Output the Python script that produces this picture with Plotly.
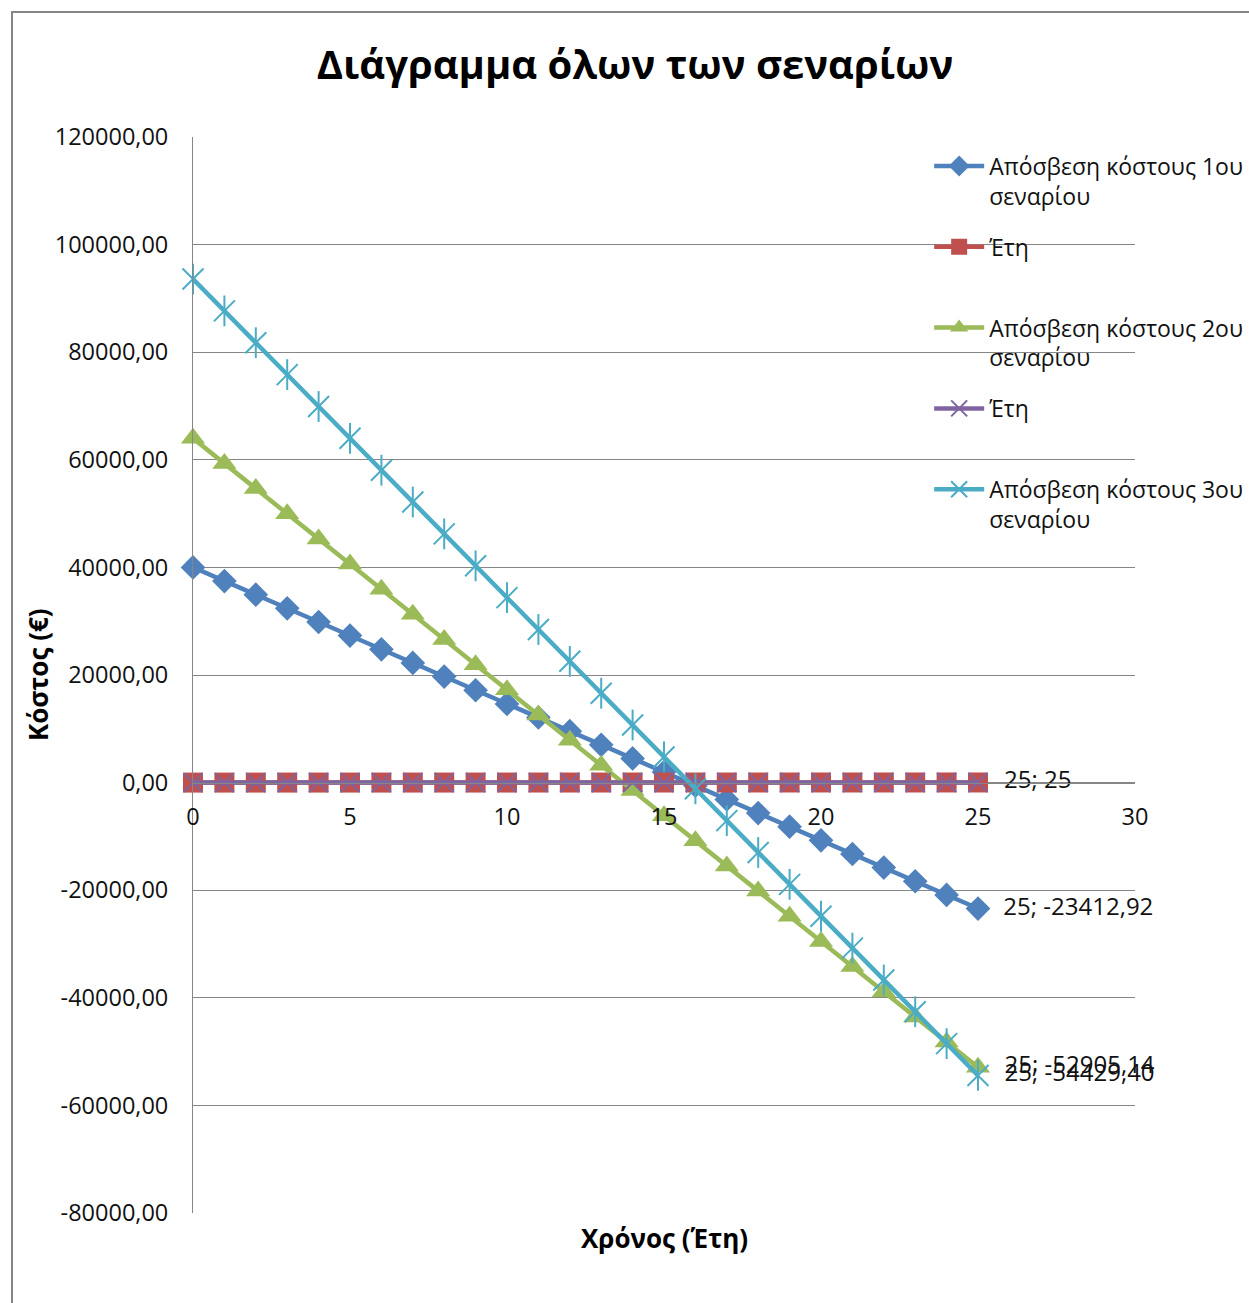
import plotly.graph_objects as go

# ---------------- data ----------------
years = list(range(26))

scenario1 = [40000, 37460, 34930, 32390, 29850, 27320, 24780, 22240, 19710, 17170,
             14630, 12100, 9560, 7030, 4490, 1950, -580, -3120, -5660, -8190,
             -10730, -13270, -15800, -18340, -20880, -23412.92]
scenario2 = [64000, 59300, 54650, 49970, 45300, 40620, 35950, 31270, 26600, 21920,
             17240, 12570, 7890, 3210, -1460, -6140, -10810, -15490, -20170, -24840,
             -29520, -34190, -38870, -43550, -48230, -52905.14]
scenario3 = [93600, 87680, 81760, 75830, 69910, 63990, 58070, 52150, 46230, 40300,
             34380, 28460, 22540, 16620, 10700, 4770, -1150, -7070, -12990, -18910,
             -24840, -30760, -36680, -42600, -48520, -54429.40]
years_series_a = list(range(26))   # "Έτη" (y = year)
years_series_b = list(range(26))   # "Έτη" (y = year)

names = ["Απόσβεση κόστους 1ου<br>σεναρίου", "Έτη<br>&nbsp;",
         "Απόσβεση κόστους 2ου<br>σεναρίου", "Έτη<br>&nbsp;",
         "Απόσβεση κόστους 3ου<br>σεναρίου"]

y_ticks = [120000, 100000, 80000, 60000, 40000, 20000, 0, -20000, -40000, -60000, -80000]
x_ticks = [0, 5, 10, 15, 20, 25, 30]

title_text = "Διάγραμμα όλων των σεναρίων"
y_title = "Κόστος (€)"
x_title = "Χρόνος (Έτη)"

# ---------------- helpers ----------------
FONT = "Open Sans"
GRID = "#868686"
PAD = "\u00a0\u00a0"


def fmt(v):
    s = f"{abs(v):.2f}".replace(".", ",")
    return ("-" if v < 0 else "") + s


def end_label(xs, ys):
    last = ys[-1]
    val = str(int(last)) if float(last).is_integer() and last >= 0 else fmt(last)
    return [""] * (len(xs) - 1) + [f"{PAD}{xs[-1]}; {val}"]


LABEL_FONT = dict(size=24, color="#111111", family=FONT)

fig = go.Figure()

# Scenario 1
fig.add_trace(go.Scatter(
    x=years, y=scenario1, name=names[0], legendgroup="s1",
    mode="lines+markers+text", cliponaxis=False,
    line=dict(color="#4F81BD", width=4.5),
    marker=dict(symbol="diamond", size=19, color="#4F81BD"),
    text=end_label(years, scenario1), textposition="middle right",
    textfont=LABEL_FONT,
))
# Έτη (red squares)
fig.add_trace(go.Scatter(
    x=years, y=years_series_a, name=names[1], legendgroup="s2",
    mode="lines+markers+text", cliponaxis=False,
    line=dict(color="#C0504D", width=4.5),
    marker=dict(symbol="square", size=20, color="#C0504D"),
    text=end_label(years, years_series_a), textposition="middle right",
    textfont=LABEL_FONT,
))
# Scenario 2
fig.add_trace(go.Scatter(
    x=years, y=scenario2, name=names[2], legendgroup="s3",
    mode="lines+markers+text", cliponaxis=False,
    line=dict(color="#9BBB59", width=4.5),
    marker=dict(symbol="triangle-up", size=21, color="#9BBB59"),
    text=end_label(years, scenario2), textposition="middle right",
    textfont=LABEL_FONT,
))
# Έτη (purple x)
fig.add_trace(go.Scatter(
    x=years, y=years_series_b, name=names[3], legendgroup="s4",
    mode="lines+markers", cliponaxis=False,
    line=dict(color="#8064A2", width=4.5),
    marker=dict(symbol="x-thin-open", size=19, color="#8064A2",
                line=dict(width=2, color="#8064A2")),
))
# Scenario 3
fig.add_trace(go.Scatter(
    x=years, y=scenario3, name=names[4], legendgroup="s5",
    mode="lines+markers+text", cliponaxis=False,
    line=dict(color="#4BACC6", width=4.5),
    marker=dict(symbol="x-thin-open", size=21, color="#4BACC6",
                line=dict(width=2, color="#4BACC6")),
    text=end_label(years, scenario3), textposition="middle right",
    textfont=LABEL_FONT,
))
fig.add_trace(go.Scatter(
    x=years, y=scenario3, legendgroup="s5", showlegend=False, hoverinfo="skip",
    mode="markers", cliponaxis=False,
    marker=dict(symbol="line-ns-open", size=22, color="#4BACC6",
                line=dict(width=2, color="#4BACC6")),
))

fig.update_layout(
    width=1249, height=1303,
    margin=dict(l=193, r=114, t=137, b=90, autoexpand=False),
    paper_bgcolor="white", plot_bgcolor="white",
    font=dict(family=FONT, size=23, color="#111111"),
    title=dict(text=f"<b>{title_text}</b>", font=dict(size=40, color="#000000", family=FONT),
               x=635 / 1249, xanchor="center", xref="container",
               y=1 - 65 / 1303, yanchor="middle", yref="container"),
    xaxis=dict(
        range=[0, 30], tickvals=x_ticks, ticktext=[str(v) for v in x_ticks],
        anchor="free", position=0.4,
        showgrid=False, zeroline=False, showline=True, linecolor=GRID, linewidth=1,
        ticks="", ticklabelstandoff=13,
        tickfont=dict(size=23.5, color="#111111"),
    ),
    yaxis=dict(
        range=[-80000, 120000], tickvals=y_ticks, ticktext=[fmt(v) for v in y_ticks],
        showgrid=True, gridcolor=GRID, gridwidth=1, zeroline=False,
        showline=True, linecolor=GRID, linewidth=1,
        ticks="", ticklabelstandoff=19,
        tickfont=dict(size=23.5, color="#111111"),
    ),
    legend=dict(
        x=0.7815, y=0.993, xanchor="left", yanchor="top",
        bgcolor="rgba(0,0,0,0)", valign="top", itemwidth=50,
        tracegroupgap=18, font=dict(size=23, color="#111111", family=FONT),
    ),
    showlegend=True,
)

fig.add_annotation(text=f"<b>{y_title}</b>", xref="paper", yref="paper",
                   x=(38 - 193) / 942, y=0.5, xanchor="center", yanchor="middle",
                   textangle=-90, showarrow=False, font=dict(size=26, color="#000000"))
fig.add_annotation(text=f"<b>{x_title}</b>", xref="paper", yref="paper",
                   x=0.5, y=(1213 - 1238) / 1076, xanchor="center", yanchor="middle",
                   showarrow=False, font=dict(size=26, color="#000000"))

# chart-area border
fig.add_shape(type="rect", xref="paper", yref="paper",
              x0=(12 - 193) / 942, x1=1.3, y0=-0.3, y1=(1213 - 12) / 1076,
              line=dict(color="#868686", width=2), fillcolor="rgba(0,0,0,0)", layer="below")

fig.write_html("out.html")
